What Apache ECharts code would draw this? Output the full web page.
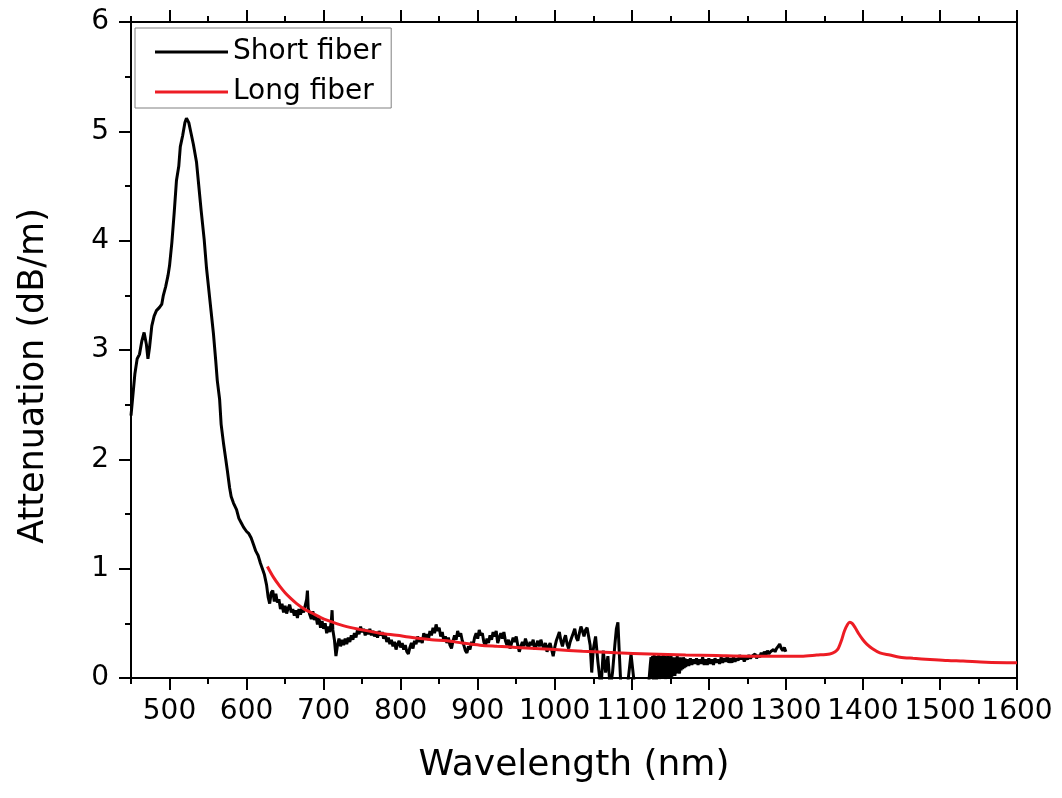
<!DOCTYPE html>
<html>
<head>
<meta charset="utf-8">
<script src="https://cdn.jsdelivr.net/npm/echarts@6/dist/echarts.min.js"></script>
<style>
html,body{margin:0;padding:0;background:#fff;}
#chart{width:1062px;height:798px;}
</style>
</head>
<body>
<div id="chart"></div>
<script>
// ---- data ----
const shortWavelength = [450,452,455,458,461,464,467,470,472,474,477,480,483,487,490,492,495,498,500,503,506,509,512,514,517,520,522,525,528,531,535,538,541,545,548,551,554,557,560,562,565,567,570,573,575,578,580,583,587,590,593,596,600,603,606,609,612,615,618,621,623,
626,628,630,632,634,636,638,640,642,644,646,648,650,652,654,656,658,660,662,664,666,668,670,672,674,676,678,679,680,682,684,686,688,690,692,694,696,698,700,702,704,706,708,710,711,712,714,716,718,720,722,724,726,728,730,732,734,736,738,740,742,744,746,748,750,752,754,756,758,760,762,764,766,768,770,772,774,776,778,780,782,784,786,788,790,792,794,796,798,800,802,804,806,808,810,812,814,816,818,820,822,824,826,828,830,832,834,836,838,840,842,844,846,848,850,852,854,856,858,860,862,864,866,868,870,872,874,876,878,880,882,884,886,888,890,892,894,896,898,900,902,904,906,908,910,912,914,916,918,920,922,924,926,928,930,932,934,936,938,940,942,944,946,948,950,952,954,956,958,960,962,964,966,968,970,972,974,976,978,980,982,984,986,988,990,992,994,996,998,1000,1002,1004,1006,1008,1010,1012,1014,1016,1018,1020,1022,1024,1026,1028,1030,1032,1034,1036,1038,1040,1042,1044,1046,1048,
1050,1053,1056,1060,1063,1066,1069,1072,1075,1078,1080,1082,1084,1086,1088,1094,1099,1104,1110,1118,1122,
1124,1125,1126,1127,1128,1129,1130,1131,1132,1133,1134,1135,1136,1137,1138,1139,1140,1141,1142,1143,1144,1145,1146,1147,1148,1149,1150,1151,1152,1153,1154,1155,1156,1157,1158,1159,1160,1161,1162,1163,1164,1165,1166,1167,1168,1169,1170,
1172,1174,1176,1178,1180,1182,1184,1186,1188,1190,1192,1194,1196,1198,1200,1202,1204,1206,1208,1210,1212,1214,1216,1218,1220,1222,1224,1226,1228,1230,1232,1234,1236,1238,1240,1242,1244,1246,1248,1250,1252,1254,1256,1258,1260,1262,1264,1266,1268,1270,1272,1274,1276,1278,1280,1282,1284,1286,1288,1290,1292,1294,1296,1298,1300];
const shortAttenuation = [2.40,2.55,2.78,2.92,2.96,3.08,3.16,3.05,2.92,3.02,3.22,3.31,3.36,3.39,3.42,3.50,3.58,3.68,3.77,3.98,4.25,4.55,4.68,4.86,4.96,5.08,5.12,5.08,4.98,4.88,4.72,4.50,4.28,4.01,3.75,3.55,3.35,3.15,2.90,2.72,2.55,2.32,2.15,2.00,1.90,1.74,1.66,1.60,1.54,1.46,1.42,1.38,1.34,1.32,1.28,1.22,1.16,1.12,1.05,0.99,0.95,
0.85,0.74,0.68,0.78,0.80,0.70,0.77,0.69,0.72,0.63,0.68,0.60,0.66,0.59,0.64,0.67,0.60,0.63,0.57,0.62,0.55,0.63,0.58,0.64,0.60,0.66,0.72,0.80,0.64,0.58,0.54,0.61,0.53,0.57,0.49,0.55,0.46,0.52,0.45,0.50,0.41,0.47,0.42,0.52,0.62,0.44,0.35,0.20,0.30,0.36,0.29,0.35,0.30,0.36,0.31,0.37,0.33,0.39,0.35,0.41,0.37,0.44,0.40,0.47,0.42,0.45,0.39,0.44,0.40,0.45,0.39,0.43,0.38,0.42,0.37,0.43,0.39,0.42,0.36,0.40,0.33,0.37,0.31,0.35,0.29,0.33,0.26,0.31,0.34,0.28,0.32,0.26,0.30,0.24,0.22,0.28,0.32,0.27,0.34,0.31,0.38,0.33,0.37,0.32,0.41,0.36,0.40,0.35,0.43,0.39,0.46,0.41,0.49,0.43,0.46,0.38,0.42,0.34,0.38,0.32,0.37,0.30,0.27,0.34,0.39,0.35,0.43,0.38,0.41,0.34,0.30,0.25,0.23,0.29,0.26,0.33,0.30,0.37,0.41,0.36,0.44,0.39,0.41,0.33,0.29,0.36,0.32,0.39,0.35,0.42,0.38,0.43,0.32,0.37,0.41,0.36,0.42,0.34,0.30,0.35,0.27,0.32,0.37,0.33,0.38,0.30,0.24,0.29,0.33,0.29,0.36,0.31,0.27,0.33,0.30,0.35,0.26,0.30,0.34,0.29,0.35,0.30,0.27,0.32,0.24,0.29,0.32,0.26,0.20,0.28,0.34,0.38,0.42,0.34,0.29,0.35,0.39,0.31,0.27,0.33,0.37,0.41,0.45,0.37,0.34,0.41,0.47,0.43,0.38,0.44,0.46,0.38,0.30,0.05,
0.26,0.38,0.15,-0.10,0.25,0.05,0.20,-0.10,0.05,0.30,0.45,0.51,0.20,-0.10,-0.10,-0.10,0.22,-0.10,-0.30,-0.30,-0.05,
0.12,0.19,0.00,0.20,-0.02,0.21,0.00,0.19,-0.02,0.20,0.01,0.21,-0.01,0.20,0.00,0.19,0.02,0.21,0.00,0.20,-0.01,0.19,0.01,0.20,0.00,0.19,0.02,0.20,0.01,0.19,0.03,0.18,0.02,0.19,0.04,0.20,0.05,0.18,0.04,0.19,0.07,0.18,0.08,0.19,0.09,0.18,0.10,
0.17,0.11,0.18,0.12,0.17,0.13,0.18,0.12,0.17,0.13,0.19,0.12,0.17,0.12,0.18,0.13,0.17,0.12,0.18,0.14,0.17,0.13,0.19,0.14,0.18,0.15,0.20,0.14,0.18,0.14,0.19,0.15,0.18,0.16,0.21,0.17,0.20,0.15,0.19,0.17,0.21,0.18,0.20,0.19,0.22,0.18,0.21,0.19,0.23,0.20,0.24,0.21,0.25,0.22,0.24,0.23,0.26,0.24,0.27,0.29,0.31,0.27,0.25,0.28,0.24];

const longWavelength = [627,635,643,650,657,665,675,686,697,708,720,730,750,773,795,815,840,860,880,903,925,950,975,1000,1036,1080,1123,1170,1210,1250,1296,1320,1340,1357,1364,1368,1372,1376,1380,1383,1386,1390,1395,1400,1405,1412,1422,1435,1448,1465,1487,1510,1530,1560,1600];
const longAttenuation = [1.02,0.92,0.84,0.78,0.73,0.68,0.63,0.59,0.55,0.52,0.49,0.47,0.44,0.41,0.39,0.37,0.35,0.34,0.32,0.30,0.29,0.28,0.27,0.26,0.245,0.23,0.22,0.21,0.205,0.20,0.20,0.20,0.21,0.22,0.24,0.27,0.34,0.43,0.49,0.51,0.50,0.46,0.40,0.35,0.31,0.27,0.23,0.21,0.19,0.18,0.17,0.16,0.155,0.145,0.14];

const xMajorTicks = [500,600,700,800,900,1000,1100,1200,1300,1400,1500,1600];
const xMinorTicks = [450,550,650,750,850,950,1050,1150,1250,1350,1450,1550];
const xTickLabels = [500,600,700,800,900,1000,1100,1200,1300,1400,1500,1600];
const seriesNames = ['Short fiber','Long fiber'];

// ---- chart ----
const FONT = 'DejaVu Sans';
const chart = echarts.init(document.getElementById('chart'), null, {renderer:'canvas'});
const zip = (a,b) => a.map((v,i)=>[v,b[i]]);
const axisLine = {show:true, lineStyle:{color:'#000', width:2}};

function xAx(pos, ticks, len, labels, extra){
  return Object.assign({
    type:'value', min:450, max:1600, position:pos,
    axisLine: axisLine,
    splitLine:{show:false},
    axisTick:{show:true, inside:false, length:len, customValues:ticks, lineStyle:{color:'#000', width:2}},
    axisLabel: labels ? {show:true, customValues:labels, showMaxLabel:true, hideOverlap:false,
      formatter:(v)=>String(v), fontSize:28, fontFamily:FONT, color:'#000', margin:20} : {show:false}
  }, extra||{});
}

chart.setOption({
  animation:false,
  backgroundColor:'#fff',
  grid:{left:131, right:45, top:22, bottom:120, containLabel:false},
  legend:{
    data:seriesNames.map(n=>({name:n, icon:'rect'})), orient:'vertical', left:135, top:28,
    borderColor:'#808080', borderWidth:1, borderRadius:0,
    padding:[10,10,2,20], itemWidth:73, itemHeight:3, itemGap:12,
    textStyle:{fontSize:28, fontFamily:FONT, color:'#000', lineHeight:28}
  },
  xAxis:[
    xAx('bottom', xMajorTicks, 12, xTickLabels, {name:'Wavelength (nm)', nameLocation:'middle', nameGap:70, nameTextStyle:{fontSize:36, fontFamily:FONT, color:'#000'}}),
    xAx('bottom', xMinorTicks, 6, null),
    xAx('top', xMajorTicks, 12, null),
    xAx('top', xMinorTicks, 6, null)
  ],
  yAxis:[
    {type:'value', min:0, max:6, interval:1, position:'left',
     axisLine:axisLine, splitLine:{show:false},
     axisTick:{show:true, inside:false, length:12, lineStyle:{color:'#000', width:2}},
     minorTick:{show:true, splitNumber:2, length:6, lineStyle:{color:'#000', width:2}},
     axisLabel:{fontSize:28, fontFamily:FONT, color:'#000', margin:22},
     name:'Attenuation (dB/m)', nameLocation:'middle', nameGap:80,
     nameTextStyle:{fontSize:35, fontFamily:FONT, color:'#000', padding:[0,52,0,0]}},
    {type:'value', min:0, max:6, interval:1, position:'right',
     axisLine:axisLine, axisTick:{show:false}, axisLabel:{show:false}, splitLine:{show:false}}
  ],
  series:[
    {name:seriesNames[0], type:'line', xAxisIndex:0, yAxisIndex:0, data:zip(shortWavelength, shortAttenuation),
     showSymbol:false, symbol:'none', clip:true, lineStyle:{color:'#000', width:3}, itemStyle:{color:'#000'}, z:2},
    {name:seriesNames[1], type:'line', xAxisIndex:0, yAxisIndex:0, data:zip(longWavelength, longAttenuation),
     showSymbol:false, symbol:'none', smooth:0.3, clip:true, lineStyle:{color:'#ed1c24', width:3}, itemStyle:{color:'#ed1c24'}, z:3}
  ]
});
</script>
</body>
</html>
